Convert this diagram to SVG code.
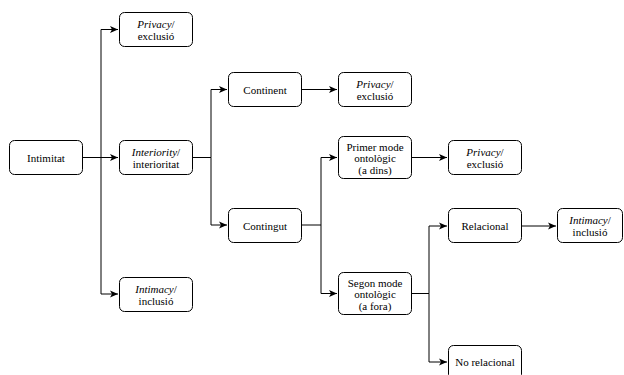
<svg xmlns="http://www.w3.org/2000/svg" width="624" height="375" viewBox="0 0 624 375">
<defs>
<style>
.box{fill:#fff;stroke:#000;stroke-width:1}
.ln{fill:none;stroke:#000;stroke-width:1}
text{font-family:"Liberation Serif","Times New Roman",serif;font-size:11px;fill:#000;text-anchor:middle}
.it{font-style:italic}
</style>
<marker id="ar" markerWidth="10" markerHeight="8" refX="8" refY="4" orient="auto" markerUnits="userSpaceOnUse">
<path d="M0,0.5 L8,4 L0,7.5 L2,4 Z" fill="#000"/>
</marker>
</defs>
<rect width="624" height="375" fill="#fff"/>
<g id="connectors">
<path class="ln" d="M82,157.5 H118" marker-end="url(#ar)"/>
<path class="ln" d="M101,157.5 V29.5 H118" marker-end="url(#ar)"/>
<path class="ln" d="M101,157.5 V294 H118" marker-end="url(#ar)"/>
<path class="ln" d="M192,157.5 H211 V89.5 H227" marker-end="url(#ar)"/>
<path class="ln" d="M211,157.5 V225 H227" marker-end="url(#ar)"/>
<path class="ln" d="M302,89.5 H337" marker-end="url(#ar)"/>
<path class="ln" d="M302,225 H321 V157.5 H337" marker-end="url(#ar)"/>
<path class="ln" d="M321,225 V293.5 H337" marker-end="url(#ar)"/>
<path class="ln" d="M412,157.5 H447" marker-end="url(#ar)"/>
<path class="ln" d="M412,293.5 H429 V226 H447" marker-end="url(#ar)"/>
<path class="ln" d="M429,293.5 V362 H447" marker-end="url(#ar)"/>
<path class="ln" d="M521,226 H556" marker-end="url(#ar)"/>
</g>
<g id="intimitat"><rect class="box" x="9.5" y="140.5" width="73" height="34" rx="5"/><text x="46" y="161.5">Intimitat</text></g>
<g id="privacy1"><rect class="box" x="119.5" y="12.5" width="73" height="34" rx="5"/><text x="156" y="27.5"><tspan class="it">Privacy</tspan>/</text><text x="156" y="40">exclusió</text></g>
<g id="interiority"><rect class="box" x="119.5" y="140.5" width="73" height="34" rx="5"/><text x="156" y="155.5"><tspan class="it">Interiority</tspan>/</text><text x="156" y="168">interioritat</text></g>
<g id="intimacy1"><rect class="box" x="119.5" y="277.5" width="73" height="34" rx="5"/><text x="156" y="292.5"><tspan class="it">Intimacy</tspan>/</text><text x="156" y="305">inclusió</text></g>
<g id="continent"><rect class="box" x="228.5" y="72.5" width="73" height="34" rx="5"/><text x="265" y="93.5">Continent</text></g>
<g id="privacy2"><rect class="box" x="338.5" y="72.5" width="73" height="34" rx="5"/><text x="375" y="87.5"><tspan class="it">Privacy</tspan>/</text><text x="375" y="100">exclusió</text></g>
<g id="contingut"><rect class="box" x="228.5" y="208.5" width="73" height="34" rx="5"/><text x="265" y="229.5">Contingut</text></g>
<g id="primer"><rect class="box" x="338.5" y="136.5" width="73" height="42" rx="5"/><text x="375" y="150.5">Primer mode</text><text x="375" y="162">ontològic</text><text x="375" y="173.5">(a dins)</text></g>
<g id="privacy3"><rect class="box" x="448.5" y="140.5" width="73" height="34" rx="5"/><text x="485" y="155.5"><tspan class="it">Privacy</tspan>/</text><text x="485" y="168">exclusió</text></g>
<g id="segon"><rect class="box" x="338.5" y="272.5" width="73" height="42" rx="5"/><text x="375" y="286.5">Segon mode</text><text x="375" y="298">ontològic</text><text x="375" y="309.5">(a fora)</text></g>
<g id="relacional"><rect class="box" x="448.5" y="208.5" width="73" height="34" rx="5"/><text x="485" y="229.5">Relacional</text></g>
<g id="intimacy2"><rect class="box" x="557.5" y="208.5" width="65" height="34" rx="5"/><text x="590" y="223.5"><tspan class="it">Intimacy</tspan>/</text><text x="590" y="236">inclusió</text></g>
<g id="norelacional"><rect class="box" x="448.5" y="345.5" width="73" height="34" rx="5"/><text x="485" y="366">No relacional</text></g>
</svg>
